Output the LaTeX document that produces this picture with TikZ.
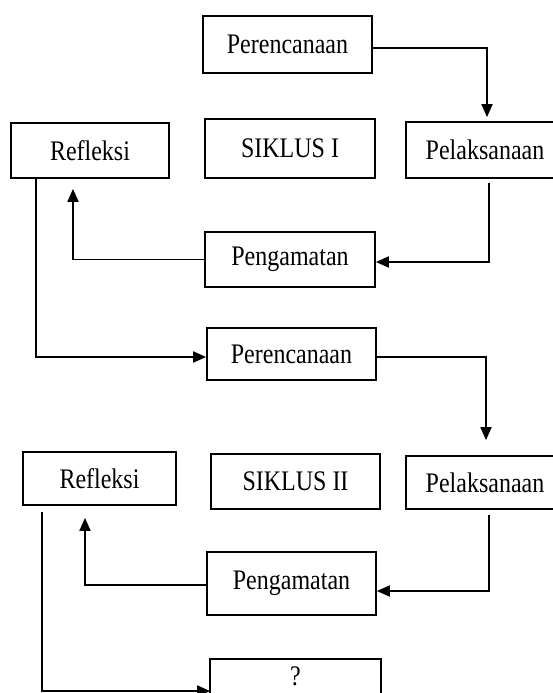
\documentclass[tikz,border=0pt]{standalone}
\usepackage{fontspec}
\usepackage{graphicx}
\setmainfont{Liberation Serif}
\usetikzlibrary{arrows.meta,calc}
\newcommand{\lbl}[1]{\scalebox{1}[1.18]{#1}}
\tikzset{
  box/.style={draw, line width=1.7pt, rectangle, inner sep=0pt,
    font=\fontsize{24}{28}\selectfont},
  arr/.style={line width=1.8pt, -{Triangle[length=13pt,width=11pt]}},
  edge line/.style={line width=1.7pt},
}
\begin{document}
\begin{tikzpicture}[x=1pt,y={(0,-1pt)}]
\useasboundingbox (0,0) rectangle (553,693);
% cycle I
\node[box, minimum width=169, minimum height=57] (p1) at (287.5,44.5) {\lbl{Perencanaan}};
\node[box, minimum width=158, minimum height=56] (l1) at (485,150) {\lbl{Pelaksanaan}};
\node[box, minimum width=170, minimum height=59] (s1) at (290,148.5) {\lbl{SIKLUS I}};
\node[box, minimum width=158, minimum height=55] (r1) at (90,150.5) {\lbl{Refleksi}};
\node[box, minimum width=170, minimum height=55] (g1) at (290,259.5) {\lbl{Pengamatan}};
% cycle II
\node[box, minimum width=169, minimum height=52] (p2) at (291.5,354) {\lbl{Perencanaan}};
\node[box, minimum width=158, minimum height=53] (l2) at (485,482.5) {\lbl{Pelaksanaan}};
\node[box, minimum width=169, minimum height=55] (s2) at (295.5,481.5) {\lbl{SIKLUS II}};
\node[box, minimum width=153, minimum height=53] (r2) at (99.5,478.5) {\lbl{Refleksi}};
\node[box, minimum width=169, minimum height=63] (g2) at (291.5,583.5) {\lbl{Pengamatan}};
% last box runs past the bottom edge
\node[box, draw=none, minimum width=169, minimum height=32] (q) at (295.5,676) {\lbl{?}};
\draw[edge line] ($(q.south west)+(0,20)$) -- (q.north west) -- (q.north east) -- ($(q.south east)+(0,20)$);
% coordinates
\coordinate (a1) at ($(l1.north)+(2,-4)$);
\coordinate (b1) at ($(l1.south)+(4,4)$);
\coordinate (c1) at ($(r1.south)+(-17,10)$);
\coordinate (d1) at ($(r1.south west)+(26,0)$);
\coordinate (a2) at ($(l2.north)+(1,-15)$);
\coordinate (b2) at ($(l2.south)+(4,5)$);
\coordinate (c2) at ($(r2.south)+(-14.5,12)$);
\coordinate (d2) at ($(r2.south west)+(20,6)$);
% connectors
\draw[arr] ($(p1.east)+(0,3.5)$) -| (a1);
\draw[arr] (b1) |- ($(g1.east)+(0,2.5)$);
\draw[arr] (g1.west) -| (c1);
\draw[arr] (d1) |- ($(p2.west)+(0,3)$);
\draw[arr] ($(p2.east)+(0,3)$) -| (a2);
\draw[arr] (b2) |- ($(g2.east)+(0,7.5)$);
\draw[arr] ($(g2.west)+(0,1.5)$) -| (c2);
\draw[arr] (d2) |- ($(q.west)+(0,15)$);
\end{tikzpicture}
\end{document}
